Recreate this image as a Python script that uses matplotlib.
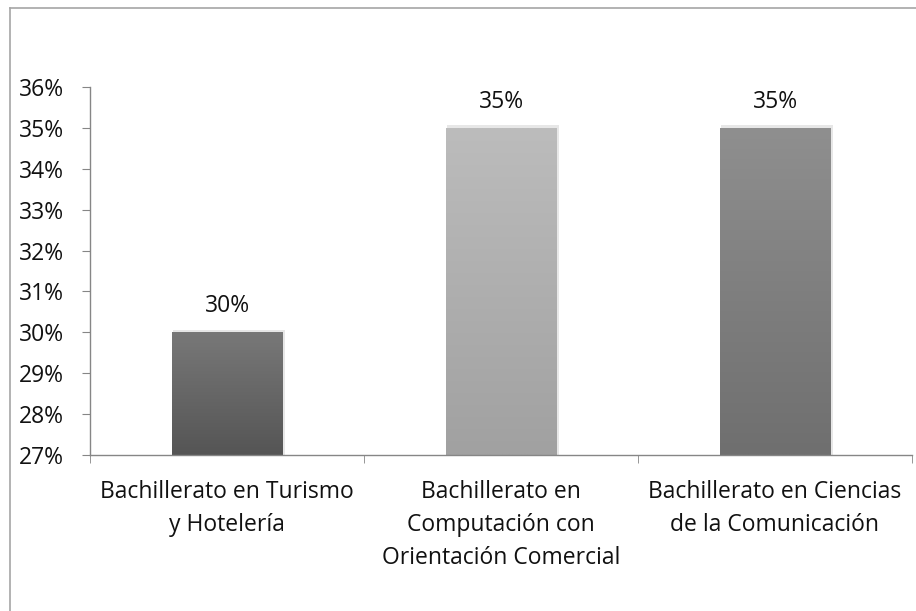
import numpy as np
from matplotlib import pyplot as plt
from matplotlib.lines import Line2D
from matplotlib.patches import Rectangle

categories = ['Bachillerato en Turismo\ny Hotelería',
              'Bachillerato en\nComputación con\nOrientación Comercial',
              'Bachillerato en Ciencias\nde la Comunicación']
values = [0.30, 0.35, 0.35]
labels = ['30%', '35%', '35%']
yticks = [0.27, 0.28, 0.29, 0.30, 0.31, 0.32, 0.33, 0.34, 0.35, 0.36]
# top / bottom shade of each bar's gradient
top_colors = ['#787878', '#bcbcbc', '#8f8f8f']
bottom_colors = ['#555555', '#a1a1a1', '#6f6f6f']

plt.rcParams['font.family'] = ['Open Sans', 'DejaVu Sans']
FS = 16.5

W, H = 916, 611
fig = plt.figure(figsize=(W / 100, H / 100), dpi=100)
ax = fig.add_axes([90 / W, 1 - 455 / H, (912 - 90) / W, (455 - 87) / H])

# outer chart border (only top and left visible in the crop)
fig.add_artist(Line2D([10 / W, 1], [1 - 8 / H, 1 - 8 / H], color='#a6a6a6', lw=1.2))
fig.add_artist(Line2D([10 / W, 10 / W], [0, 1 - 8 / H], color='#a6a6a6', lw=1.2))

x = np.arange(len(categories))
width = 0.405
ymin = yticks[0]

for i, v in enumerate(values):
    c_top = np.array(plt.matplotlib.colors.to_rgb(top_colors[i]))
    c_bot = np.array(plt.matplotlib.colors.to_rgb(bottom_colors[i]))
    t = np.linspace(0, 1, 100)[:, None]
    grad = (c_top * (1 - t) + c_bot * t)[:, None, :]
    # soft shadow
    ax.add_patch(Rectangle((x[i] - width / 2 + 0.004, ymin), width + 0.006, v - ymin + 0.0006,
                           facecolor='#d0d0d0', edgecolor='none', alpha=0.5, zorder=1))
    rect = Rectangle((x[i] - width / 2, ymin), width, v - ymin, facecolor='none',
                     edgecolor='none', zorder=2)
    ax.add_patch(rect)
    im = ax.imshow(grad, extent=(x[i] - width / 2, x[i] + width / 2, ymin, v),
                   aspect='auto', zorder=2, interpolation='bilinear')
    im.set_clip_path(rect)
    ax.annotate(labels[i], (x[i], v), xytext=(0, 10), textcoords='offset points',
                ha='center', va='bottom', fontsize=FS, color='#111111')

ax.set_xlim(-0.5, len(categories) - 0.5)
ax.set_ylim(yticks[0], yticks[-1])
ax.set_yticks(yticks)
ax.set_yticklabels([f'{round(t * 100)}%' for t in yticks])
ax.set_xticks(x)
ax.set_xticklabels(categories, fontsize=FS, linespacing=1.5)
ax.set_xticks(np.arange(len(categories) + 1) - 0.5, minor=True)

for s in ['top', 'right']:
    ax.spines[s].set_visible(False)
for s in ['left', 'bottom']:
    ax.spines[s].set_color('#868686')
    ax.spines[s].set_linewidth(1.0)

ax.tick_params(axis='y', length=6, color='#868686', pad=13, labelsize=FS, labelcolor='#111111')
ax.tick_params(axis='x', which='major', length=0, pad=18, labelcolor='#111111')
ax.tick_params(axis='x', which='minor', length=6, color='#868686')

fig.savefig('out.png', dpi=100)
